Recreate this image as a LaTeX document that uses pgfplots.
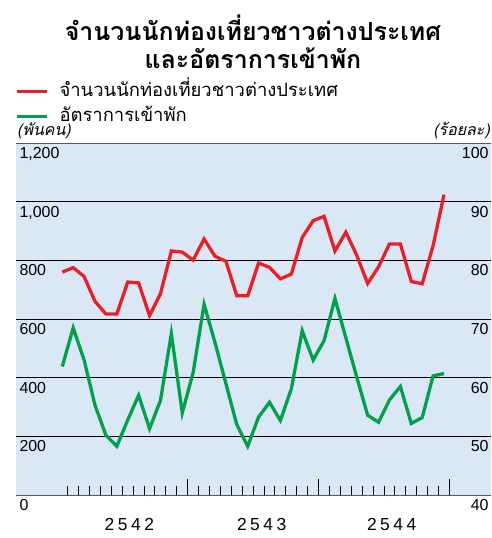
\documentclass[border=0pt]{standalone}
\usepackage{fontspec}
\setmainfont{Liberation Sans}
\newfontfamily\thai[Script=Thai]{Loma}
\newfontfamily\yearfont[LetterSpace=20]{Liberation Sans}
\usepackage{pgfplots}
\usepackage{pgfplotstable}
\pgfplotsset{compat=1.18}
\definecolor{bgblue}{HTML}{DAE8F5}
\definecolor{lred}{HTML}{EE1D25}
\definecolor{lgreen}{HTML}{00A14B}

% month index, foreign tourists (thousand persons)
\pgfplotstableread{
m tour
1 760
2 775
3 745
4 660
5 617
6 617
7 726
8 723
9 612
10 686
11 832
12 828
13 801
14 873
15 814
16 797
17 679
18 679
19 791
20 776
21 737
22 753
23 878
24 935
25 950
26 832
27 896
28 817
29 721
30 778
31 856
32 856
33 728
34 720
35 850
36 1024
}\tourists

% month index, occupancy rate (percent)
\pgfplotstableread{
m occ
1 61.9
2 68.5
3 63.0
4 55.3
5 50.2
6 48.3
7 52.8
8 57.0
9 51.3
10 56.1
11 67.5
12 54.0
13 60.9
14 72.5
15 66.0
16 59.0
17 52.0
18 48.3
19 53.3
20 55.8
21 52.7
22 58.1
23 68.0
24 63.0
25 66.3
26 73.5
27 66.8
28 60.1
29 53.6
30 52.4
31 56.2
32 58.5
33 52.2
34 53.2
35 60.3
36 60.7
}\occupancy

\begin{document}
\begin{tikzpicture}
\path[use as bounding box] (0,0) rectangle (492bp,-538bp);

\node[font=\thai\bfseries\fontsize{25}{25}\selectfont] at (253bp,-28bp) {จำนวนนักท่องเที่ยวชาวต่างประเทศ};
\node[font=\thai\bfseries\fontsize{25}{25}\selectfont] at (253bp,-58bp) {และอัตราการเข้าพัก};
\node[font=\thai\itshape\fontsize{16}{16}\selectfont, anchor=west, inner sep=0pt] at (17bp,-131bp) {(พันคน)};
\node[font=\thai\itshape\fontsize{16}{16}\selectfont, anchor=east, inner sep=0pt] at (490bp,-131bp) {(ร้อยละ)};

\begin{axis}[
  at={(16bp,-495bp)}, anchor=south west,
  scale only axis, width=475bp, height=352bp,
  xmin=-3.245, xmax=40.31, ymin=0, ymax=1200,
  axis background/.style={fill=bgblue},
  separate axis lines,
  x axis line style={draw=black!65, line width=0.9pt},
  y axis line style={draw=none},
  ytick={0,200,...,1200},
  ymajorgrids, grid style={black, line width=0.8pt},
  scaled y ticks=false,
  /pgf/number format/assume math mode=true,
  yticklabel style={anchor=north west, xshift=0bp, yshift=-1bp,
    font=\fontsize{16}{16}\selectfont},
  ytick style={draw=none},
  xtick={12.5,24.5,36.5},
  minor xtick={1.5,2.5,...,35.5},
  xticklabels={},
  xtick pos=left,
  tick align=inside,
  major tick length=16bp, minor tick length=9bp,
  every tick/.style={black, line width=1pt},
  extra x ticks={7.15,19.28,31.2},
  extra x tick labels={2542,2543,2544},
  extra x tick style={major tick length=0pt,
    xticklabel style={font=\yearfont\fontsize{17.5}{17.5}\selectfont, yshift=-20bp}},
  legend style={at={(axis description cs:-0.002,1.176)}, anchor=north west,
    draw=none, fill=none, inner sep=0pt, column sep=10bp, row sep=4bp,
    font=\thai\fontsize{18.5}{18.5}\selectfont,
    nodes={text height=14bp, text depth=5bp, inner sep=1bp}},
  legend cell align=left,
  legend image code/.code={\draw[#1] (0bp,0bp) -- (30bp,0bp);},
]
\addplot[lred, line width=3.3pt] table[x=m, y=tour] {\tourists};
\addlegendentry{จำนวนนักท่องเที่ยวชาวต่างประเทศ}
\addlegendimage{lgreen, line width=3.3pt}
\addlegendentry{อัตราการเข้าพัก}
\end{axis}

\begin{axis}[
  at={(16bp,-495bp)}, anchor=south west,
  scale only axis, width=475bp, height=352bp,
  xmin=-3.245, xmax=40.31, ymin=40, ymax=100,
  hide x axis,
  axis y line*=right,
  y axis line style={draw=none},
  ytick={40,50,...,100},
  ytick style={draw=none},
  /pgf/number format/assume math mode=true,
  yticklabel style={anchor=north east, xshift=1bp, yshift=-1bp,
    font=\fontsize{16}{16}\selectfont},
]
\addplot[lgreen, line width=3.3pt] table[x=m, y=occ] {\occupancy};
\end{axis}
\end{tikzpicture}
\end{document}
